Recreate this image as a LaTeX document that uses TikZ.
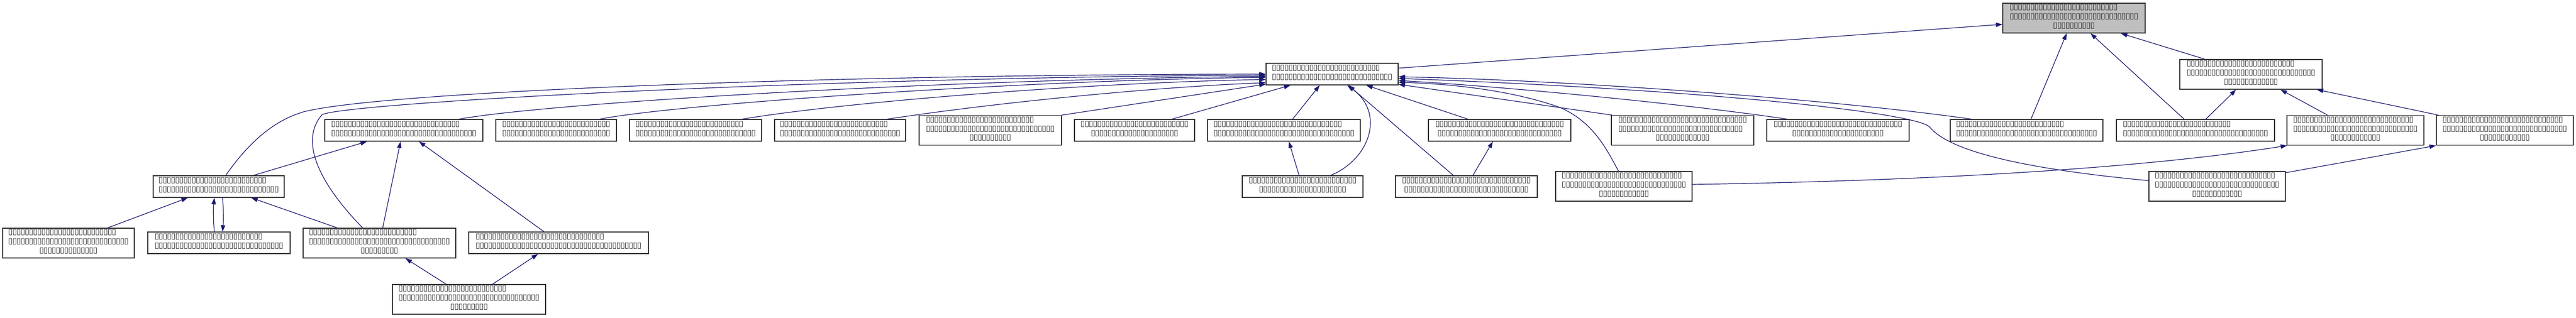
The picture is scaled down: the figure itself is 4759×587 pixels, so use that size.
\documentclass[tikz,border=0pt]{standalone}
\usepackage{fontspec}
\usetikzlibrary{arrows.meta}
\newfontfamily\tofufont{DejaVu Sans}
\definecolor{edgeblue}{HTML}{191970}
\definecolor{topfill}{HTML}{BFBFBF}
\newcommand\tfglyph{\makebox[7.65pt][c]{\raisebox{3pt}{\scalebox{1.1}[1.04]{▯}}}}
\ExplSyntaxOn
\cs_new:Npn \tfrow #1 { \prg_replicate:nn {#1} { \tfglyph } }
\ExplSyntaxOff
\newcommand\labtwo[2]{\begin{tabular}{@{}l@{}}\tfrow{#1}\\\multicolumn{1}{@{}c@{}}{\tfrow{#2}}\end{tabular}}
\newcommand\labthree[3]{\begin{tabular}{@{}l@{}}\tfrow{#1}\\\tfrow{#2}\\\multicolumn{1}{@{}c@{}}{\tfrow{#3}}\end{tabular}}
\tikzset{
  cls/.style={draw=black!80, line width=1.3pt, inner sep=0pt, fill=white,
    font=\tofufont\fontsize{14}{14.3}\selectfont, text=black!85},
  clstwo/.style={cls, minimum height=40pt},
  clsthree/.style={cls, minimum height=55pt},
  inh/.style={draw=edgeblue, line width=1.2pt, -{Triangle[length=12pt,width=8pt]}}
}
\begin{document}
\begin{tikzpicture}[x=1pt,y=-1pt]
\useasboundingbox (0,0) rectangle (4759,587);
% nodes
\node[clsthree, fill=topfill, minimum width=263pt] (top) at (3831.5,33.5) {\labthree{26}{31}{10}};
\node[clstwo, minimum width=244pt] (hub) at (2461,137) {\labtwo{26}{29}};
\node[clsthree, minimum width=263pt] (rone) at (4158.5,137.5) {\labthree{26}{31}{13}};
\node[clstwo, minimum width=292pt] (a) at (746,241) {\labtwo{31}{35}};
\node[clstwo, minimum width=223pt] (b) at (1027.5,241) {\labtwo{26}{26}};
\node[clstwo, minimum width=244pt] (c) at (1285,241) {\labtwo{26}{29}};
\node[clstwo, minimum width=242pt] (d) at (1552,241) {\labtwo{26}{29}};
\node[clsthree, minimum width=263pt] (e) at (1829.5,241) {\labthree{26}{31}{10}};
\node[clstwo, minimum width=222pt] (f) at (2096,241) {\labtwo{26}{21}};
\node[clstwo, minimum width=282pt] (g) at (2372,241) {\labtwo{31}{34}};
\node[clstwo, minimum width=263pt] (h) at (2770.5,241) {\labtwo{31}{30}};
\node[clsthree, minimum width=263pt] (i) at (3108.5,241) {\labthree{31}{30}{13}};
\node[clstwo, minimum width=263pt] (j) at (3395.5,241) {\labtwo{31}{22}};
\node[clstwo, minimum width=282pt] (k) at (3744,241) {\labtwo{26}{34}};
\node[clstwo, minimum width=292pt] (l) at (4056,241) {\labtwo{26}{35}};
\node[clsthree, minimum width=253pt] (m) at (4351.5,241) {\labthree{29}{30}{12}};
\node[clsthree, minimum width=253pt] (n) at (4627.5,241) {\labthree{29}{30}{12}};
\node[clstwo, minimum width=242pt] (lthree) at (404,345) {\labtwo{26}{29}};
\node[clstwo, minimum width=223pt] (p) at (2406.5,345) {\labtwo{26}{21}};
\node[clstwo, minimum width=262pt] (q) at (2709,345) {\labtwo{31}{30}};
\node[clsthree, minimum width=252pt] (s) at (3000,344.5) {\labthree{29}{30}{12}};
\node[clsthree, minimum width=252pt] (t) at (4096,344.5) {\labthree{29}{30}{12}};
\node[clsthree, minimum width=243pt] (lfoura) at (126.5,449.5) {\labthree{26}{29}{14}};
\node[clstwo, minimum width=263pt] (lfourb) at (404.5,449) {\labtwo{26}{31}};
\node[clsthree, minimum width=282pt] (lfourc) at (701,449.5) {\labthree{26}{34}{9}};
\node[clstwo, minimum width=332pt] (mfour) at (1032,449) {\labtwo{31}{40}};
\node[clsthree, minimum width=283pt] (bot) at (866.5,553.5) {\labthree{26}{34}{9}};
% edges, right part
\draw[inh] ([yshift=11pt]hub.east) -- ([yshift=-11.5pt]top.west);
\draw[inh] ([xshift=-85.5pt]rone.north) -- ([xshift=86.5pt]top.south);
\draw[inh] ([xshift=8pt]k.north) -- ([xshift=-13.5pt]top.south);
\draw[inh] ([xshift=-21pt]l.north) -- ([xshift=30.5pt]top.south);
\draw[inh] ([xshift=19pt]l.north) -- ([xshift=-27.5pt]rone.south);
\draw[inh] ([xshift=-51.5pt]m.north) -- ([xshift=54.5pt]rone.south);
\draw[inh] ([xshift=-122.5pt]n.north) -- ([xshift=121.5pt]rone.south);
\draw[inh] ([yshift=3.5pt]s.east) .. controls (3450,336) and (3900,320) .. ([xshift=1pt]m.south west);
\draw[inh] ([yshift=-3pt]t.north east) -- (n.south west);
\draw[inh] ([yshift=10.5pt]t.west) .. controls (3800,318) and (3610,290) .. (3565,235) .. controls (3545,211) and (3200,168) .. ([yshift=-8pt]hub.east);
\draw[inh] ([xshift=2pt]i.north west) -- ([yshift=-19pt]hub.east);
\draw[inh] ([xshift=-93.5pt]j.north) .. controls (3100,190) and (2750,158) .. ([yshift=-12pt]hub.east);
\draw[inh] ([xshift=-10pt]s.north) .. controls (2970,280) and (2945,225) .. (2880,198) .. controls (2800,170) and (2700,156) .. ([yshift=-15pt]hub.east);
\draw[inh] ([xshift=-102pt]k.north) .. controls (3400,185) and (2900,148) .. ([yshift=-5pt]hub.east);
% edges, hub bottom
\draw[inh] ([xshift=69pt]f.north) -- ([xshift=-77pt]hub.south);
\draw[inh] ([xshift=16pt]g.north) -- ([xshift=-23pt]hub.south);
\draw[inh] ([xshift=-58.5pt]h.north) -- ([xshift=63pt]hub.south);
\draw[inh] ([xshift=51.5pt]p.north) .. controls (2530,295) and (2560,210) .. ([xshift=28pt]hub.south);
\draw[inh] ([xshift=-24pt]q.north) -- ([xshift=30pt]hub.south);
\draw[inh] ([xshift=-6.5pt]p.north) -- ([xshift=9pt]g.south);
\draw[inh] ([xshift=12pt]q.north) -- ([xshift=-12.5pt]h.south);
% edges, hub left
\draw[inh] (e.north east) -- ([yshift=2pt]hub.south west);
\draw[inh] ([xshift=87pt]d.north) .. controls (1850,188) and (2150,160) .. ([yshift=-16pt]hub.west);
\draw[inh] ([xshift=86pt]c.north) .. controls (1550,190) and (2000,153) .. ([yshift=-10pt]hub.west);
\draw[inh] ([xshift=80.5pt]b.north) .. controls (1250,192) and (1900,148) .. ([yshift=-6pt]hub.west);
\draw[inh] ([xshift=102pt]a.north) .. controls (1000,192) and (1700,148) .. ([yshift=-4pt]hub.west);
\draw[inh] ([xshift=13pt]lthree.north) .. controls (455,270) and (500,225) .. (560,207) .. controls (700,170) and (1500,138) .. ([yshift=0pt]hub.west);
\draw[inh] ([xshift=-31pt]lfourc.north) .. controls (610,360) and (545,270) .. (595,212) .. controls (640,190) and (1500,143) .. ([yshift=-2pt]hub.west);
% edges, left part
\draw[inh] ([xshift=64pt]lthree.north) -- ([xshift=-68pt]a.south);
\draw[inh] ([xshift=6pt]lfourc.north) -- ([xshift=-6pt]a.south);
\draw[inh] ([xshift=-27pt]mfour.north) -- ([xshift=28pt]a.south);
\draw[inh] ([xshift=72.5pt]lfoura.north) -- ([xshift=-57pt]lthree.south);
\draw[inh] ([xshift=-8.5pt]lfourb.north) .. controls (394,410) and (394,385) .. ([xshift=-8pt]lthree.south);
\draw[inh] ([xshift=7pt]lthree.south) .. controls (413,385) and (413,410) .. ([xshift=6.5pt]lfourb.north);
\draw[inh] ([xshift=-78pt]lfourc.north) -- ([xshift=60pt]lthree.south);
\draw[inh] ([xshift=-42.5pt]bot.north) -- ([xshift=48pt]lfourc.south);
\draw[inh] ([xshift=43.5pt]bot.north) -- ([xshift=-38pt]mfour.south);
\end{tikzpicture}
\end{document}
